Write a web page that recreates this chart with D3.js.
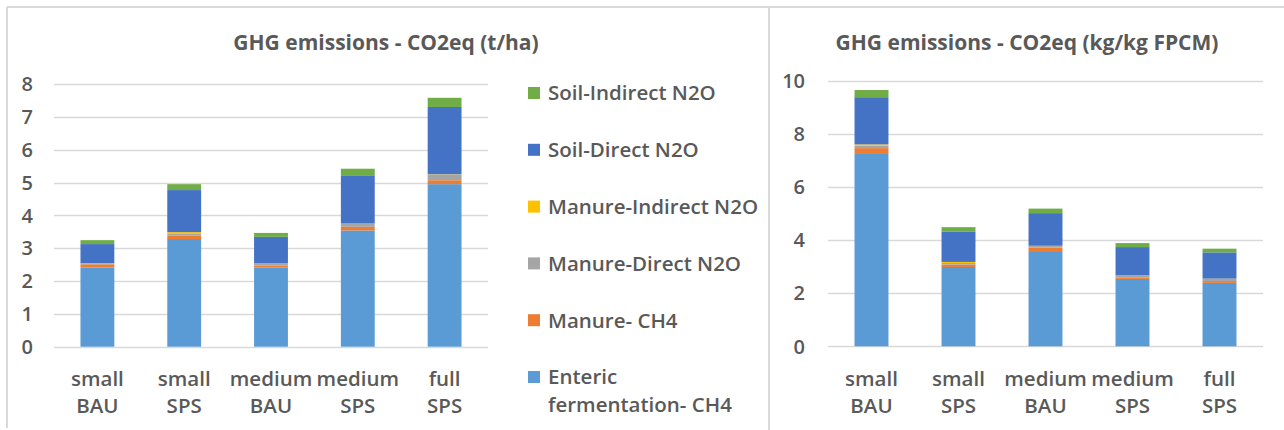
<!DOCTYPE html>
<html>
<head>
<meta charset="utf-8">
<script src="https://cdn.jsdelivr.net/npm/d3@7"></script>
<style>
  body { margin: 0; background: #fff; }
  text { font-family: "Open Sans", sans-serif; fill: #595959; font-weight: 600; }
</style>
</head>
<body>
<script>
const width = 1284;
const height = 430;

// categories (two-line labels)
const categories = ['small BAU', 'small SPS', 'medium BAU', 'medium SPS', 'full SPS'];
const catLines = [['small', 'BAU'], ['small', 'SPS'], ['medium', 'BAU'], ['medium', 'SPS'], ['full', 'SPS']];

// stack order bottom -> top
const series = ['Enteric fermentation- CH4', 'Manure- CH4', 'Manure-Direct N2O', 'Manure-Indirect N2O', 'Soil-Direct N2O', 'Soil-Indirect N2O'];
const colors = ['#5B9BD5', '#ED7D31', '#A5A5A5', '#FFC000', '#4472C4', '#70AD47'];

// t/ha
const haEnteric = [2.41, 3.28, 2.41, 3.54, 4.95];
const haManureCH4 = [0.10, 0.10, 0.06, 0.11, 0.12];
const haManureDirect = [0.03, 0.07, 0.06, 0.09, 0.17];
const haManureIndirect = [0.005, 0.04, 0.005, 0.01, 0.01];
const haSoilDirect = [0.58, 1.28, 0.81, 1.45, 2.05];
const haSoilIndirect = [0.12, 0.18, 0.12, 0.22, 0.28];

// kg/kg FPCM
const kgEnteric = [7.25, 2.99, 3.59, 2.54, 2.39];
const kgManureCH4 = [0.22, 0.09, 0.13, 0.06, 0.07];
const kgManureDirect = [0.09, 0.06, 0.06, 0.06, 0.08];
const kgManureIndirect = [0.05, 0.04, 0.01, 0.01, 0.01];
const kgSoilDirect = [1.78, 1.15, 1.23, 1.07, 0.99];
const kgSoilIndirect = [0.27, 0.16, 0.17, 0.15, 0.14];

const leftTicks = [0, 1, 2, 3, 4, 5, 6, 7, 8];
const rightTicks = [0, 2, 4, 6, 8, 10];

const svg = d3.select('body').append('svg')
  .attr('width', width)
  .attr('height', height);

// panel frame lines
const frame = svg.append('g').attr('stroke', '#D9D9D9').attr('stroke-width', 2);
frame.append('line').attr('x1', 7).attr('x2', width).attr('y1', 7).attr('y2', 7);
frame.append('line').attr('x1', 7).attr('x2', 7).attr('y1', 7).attr('y2', 428);
frame.append('line').attr('x1', 769).attr('x2', 769).attr('y1', 7).attr('y2', height);

function buildRows(cols) {
  return categories.map((c, i) => {
    const row = { cat: c };
    series.forEach((s, j) => { row[s] = cols[j][i]; });
    return row;
  });
}

function drawChart(opts) {
  const g = svg.append('g');
  const x = d3.scaleBand().domain(categories)
    .range([opts.x0, opts.x1]).paddingInner(0.61).paddingOuter(0.305);
  const y = d3.scaleLinear().domain([0, opts.max]).range([opts.yBottom, opts.yTop]);

  // title
  g.append('text')
    .attr('x', opts.titleX).attr('y', 50)
    .attr('text-anchor', 'middle')
    .style('font-size', '21px')
    .style('font-weight', 700)
    .text(opts.title);

  // gridlines
  g.append('g').selectAll('line').data(opts.ticks).join('line')
    .attr('x1', opts.x0).attr('x2', opts.x1)
    .attr('y1', d => Math.round(y(d)) + 0.5).attr('y2', d => Math.round(y(d)) + 0.5)
    .attr('stroke', '#D9D9D9').attr('stroke-width', 1.5);

  // y tick labels
  g.append('g').selectAll('text').data(opts.ticks).join('text')
    .attr('x', opts.labelX).attr('y', d => y(d))
    .attr('dy', '0.36em')
    .attr('text-anchor', 'end')
    .style('font-size', '20px')
    .text(d => d);

  // stacked bars
  const stack = d3.stack().keys(series)(opts.rows);
  g.append('g').selectAll('g').data(stack).join('g')
    .attr('fill', (d, i) => colors[i])
    .selectAll('rect').data(d => d).join('rect')
    .attr('x', d => x(d.data.cat))
    .attr('width', x.bandwidth())
    .attr('y', d => y(d[1]))
    .attr('height', d => y(d[0]) - y(d[1]));

  // category labels, one text per line
  const lab = g.append('g').selectAll('g').data(categories).join('g')
    .attr('transform', d => `translate(${x(d) + x.bandwidth() / 2},0)`);
  lab.selectAll('text').data((d, i) => catLines[i]).join('text')
    .attr('text-anchor', 'middle')
    .style('font-size', '20.5px')
    .attr('y', (d, i) => 386 + i * 27)
    .text(d => d);
}

drawChart({
  title: 'GHG emissions - CO2eq (t/ha)', titleX: 386,
  x0: 54, x1: 488, yBottom: 346.7, yTop: 84, max: 8, ticks: leftTicks, labelX: 33,
  rows: buildRows([haEnteric, haManureCH4, haManureDirect, haManureIndirect, haSoilDirect, haSoilIndirect])
});

drawChart({
  title: 'GHG emissions - CO2eq (kg/kg FPCM)', titleX: 1027,
  x0: 828, x1: 1263, yBottom: 346.3, yTop: 81, max: 10, ticks: rightTicks, labelX: 805,
  rows: buildRows([kgEnteric, kgManureCH4, kgManureDirect, kgManureIndirect, kgSoilDirect, kgSoilIndirect])
});

// legend (top -> bottom is reverse stack order)
const legendItems = series.map((s, i) => ({ name: s, color: colors[i] })).reverse();
const legendLines = {
  'Enteric fermentation- CH4': ['Enteric', 'fermentation- CH4']
};
const legend = svg.append('g').selectAll('g').data(legendItems).join('g')
  .attr('transform', (d, i) => `translate(528,${93 + i * 56.8})`);
legend.append('rect')
  .attr('x', 0).attr('y', -6).attr('width', 12).attr('height', 12)
  .attr('fill', d => d.color);
legend.selectAll('text').data(d => legendLines[d.name] || [d.name]).join('text')
  .attr('x', 20).attr('y', (d, i) => i * 27.5)
  .attr('dy', '0.36em')
  .style('font-size', '20.5px')
  .text(d => d);
</script>
</body>
</html>
